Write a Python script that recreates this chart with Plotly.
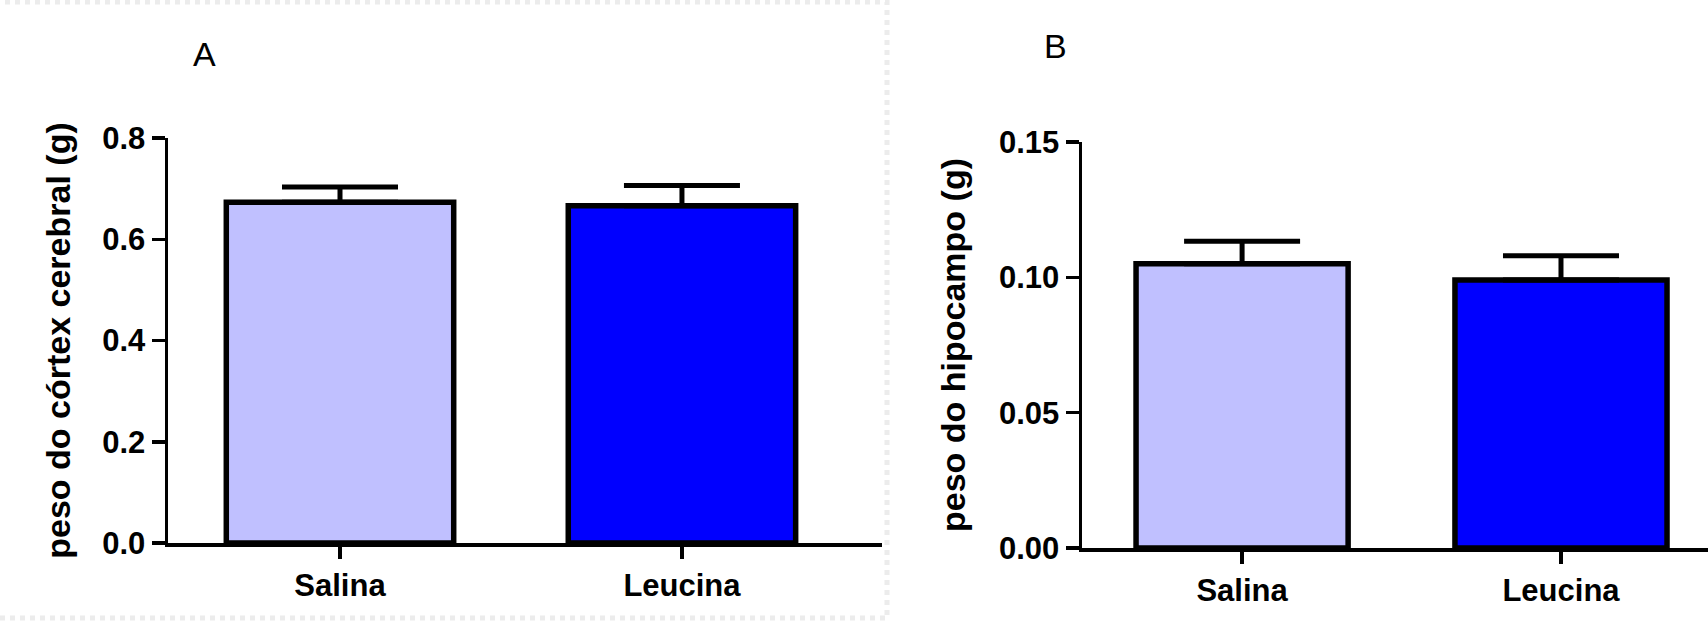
import plotly.graph_objects as go

# ---- data ----
categories = ["Salina", "Leucina"]
cortex_mean = [0.673, 0.666]
cortex_sem = [0.030, 0.040]
hipo_mean = [0.105, 0.099]
hipo_sem = [0.0083, 0.0090]
bar_colors = ["#C0C0FF", "#0000FF"]
cortex_ticks = [0.0, 0.2, 0.4, 0.6, 0.8]
hipo_ticks = [0.00, 0.05, 0.10, 0.15]

W, H = 1708, 625
def px(xp): return xp / W
def py(yp): return 1 - yp / H

FONT = "Liberation Sans, Arial, sans-serif"
tickfont = dict(family=FONT, size=31, color="black", weight="bold")
titlefont = dict(family=FONT, size=34, color="black", weight="bold")

fig = go.Figure()
for i, (m, s, xa, ya) in enumerate([(cortex_mean, cortex_sem, "x", "y"),
                                   (hipo_mean, hipo_sem, "x2", "y2")]):
    fig.add_trace(go.Bar(
        x=categories, y=m, xaxis=xa, yaxis=ya, width=0.665,
        marker=dict(color=bar_colors, line=dict(color="black", width=5.5)),
        error_y=dict(type="data", symmetric=False, array=s, arrayminus=[0, 0],
                     color="black", thickness=5, width=58),
        showlegend=False, hoverinfo="skip"))

common_x = dict(type="category", showline=True, linecolor="black", linewidth=3.5,
                ticks="outside", ticklen=12, tickwidth=3.5, tickcolor="black",
                tickfont=tickfont, showgrid=False, zeroline=False, fixedrange=True,
                automargin=False)
common_y = dict(showline=True, linecolor="black", linewidth=3.5,
                ticks="outside", ticklen=13, tickwidth=3.5, tickcolor="black",
                tickfont=tickfont, showgrid=False, zeroline=False, fixedrange=True,
                automargin=False)

fig.update_layout(
    template="none",
    width=W, height=H, margin=dict(l=0, r=0, t=0, b=0, autoexpand=False),
    paper_bgcolor="white", plot_bgcolor="white", bargap=0,
    xaxis=dict(common_x, domain=[px(168), px(882)], range=[-0.503, 1.585], anchor="y"),
    yaxis=dict(common_y, domain=[py(543), py(138)], range=[0, 0.8],
               tickvals=cortex_ticks, tickformat=".1f", anchor="x",
               title=dict(text="peso do córtex cerebral (g)", font=titlefont, standoff=22)),
    xaxis2=dict(common_x, domain=[px(1082), 1.0], range=[-0.502, 1.461], anchor="y2"),
    yaxis2=dict(common_y, domain=[py(548), py(142)], range=[0, 0.15],
                tickvals=hipo_ticks, tickformat=".2f", anchor="x2",
                title=dict(text="peso do hipocampo (g)", font=titlefont, standoff=24)),
    annotations=[
        dict(text="A", x=px(204), y=py(54), xref="paper", yref="paper", showarrow=False,
             xanchor="center", yanchor="middle", font=dict(family=FONT, size=34, color="black")),
        dict(text="B", x=px(1055), y=py(46), xref="paper", yref="paper", showarrow=False,
             xanchor="center", yanchor="middle", font=dict(family=FONT, size=34, color="black")),
    ],
    shapes=[
        dict(type="rect", xref="paper", yref="paper", x0=px(-10), x1=px(887),
             y0=py(618), y1=py(2), line=dict(color="#ececec", width=5, dash="dot"),
             layer="below"),
    ],
)

fig.write_html("out.html", config={"displayModeBar": False, "staticPlot": True},
               post_script="document.body.style.margin='0px';document.body.style.overflow='hidden';")
